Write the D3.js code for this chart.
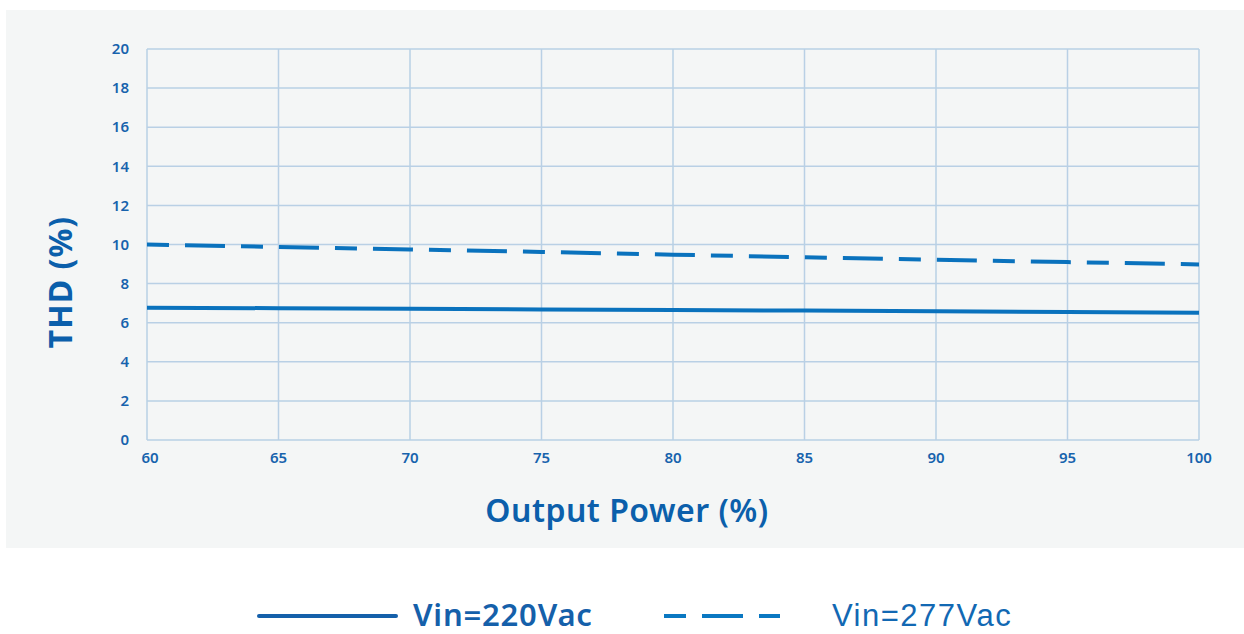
<!DOCTYPE html>
<html><head><meta charset="utf-8">
<script src="https://cdn.jsdelivr.net/npm/d3@7"></script>
<style>html,body{margin:0;padding:0;background:#fff;}svg{display:block;}</style>
</head><body>
<svg id="c" width="1244" height="634"></svg>
<script>
const xTicks = [60, 65, 70, 75, 80, 85, 90, 95, 100];
const yTicks = [0, 2, 4, 6, 8, 10, 12, 14, 16, 18, 20];
const outputPower = [60, 65, 70, 75, 80, 85, 90, 95, 100];
const thd220 = [6.77, 6.74, 6.71, 6.68, 6.65, 6.62, 6.58, 6.55, 6.51];
const thd277 = [10.0, 9.87, 9.75, 9.62, 9.48, 9.35, 9.22, 9.1, 8.98];
const seriesNames = ["Vin=220Vac", "Vin=277Vac"];

const svg = d3.select("#c");
const blue = "#0a72bd", txt = "#1763ad", grid = "#b9d0e5";
svg.append("rect").attr("x",6).attr("y",10).attr("width",1238).attr("height",538).attr("fill","#f4f6f6");

const x = d3.scaleLinear().domain([60,100]).range([147,1199]);
const y = d3.scaleLinear().domain([0,20]).range([440,49]);

const g = svg.append("g");
g.selectAll(".vg").data(xTicks).join("line")
  .attr("x1",d=>x(d)).attr("x2",d=>x(d)).attr("y1",y(0)).attr("y2",y(20))
  .attr("stroke",grid).attr("stroke-width",1.5);
g.selectAll(".hg").data(yTicks).join("line")
  .attr("y1",d=>y(d)).attr("y2",d=>y(d)).attr("x1",x(60)).attr("x2",x(100))
  .attr("stroke",grid).attr("stroke-width",1.5);

const font = "'Noto Sans', 'Open Sans', sans-serif";
g.selectAll(".yl").data(yTicks).join("text")
  .attr("x",129).attr("y",d=>y(d)).attr("dy","0.35em").attr("text-anchor","end")
  .attr("font-family",font).attr("font-size",15).attr("font-weight",600).attr("fill",txt)
  .text(d=>d);
g.selectAll(".xl").data(xTicks).join("text")
  .attr("x",d=>x(d)+(d===60?3:0)).attr("y",463).attr("text-anchor","middle")
  .attr("font-family",font).attr("font-size",15).attr("font-weight",600).attr("fill",txt)
  .text(d=>d);

const line = d3.line().x(d=>x(d[0])).y(d=>y(d[1]));
svg.append("path").datum(outputPower.map((p,i)=>[p,thd220[i]]))
  .attr("d",line).attr("fill","none").attr("stroke",blue).attr("stroke-width",4);
svg.append("path").datum(outputPower.map((p,i)=>[p,thd277[i]]))
  .attr("d",line).attr("fill","none").attr("stroke",blue).attr("stroke-width",4)
  .attr("stroke-dasharray","22,16,40,16");

svg.append("text").attr("x",627).attr("y",522).attr("text-anchor","middle")
  .attr("font-family",font).attr("font-size",32).attr("font-weight",600).attr("fill","#0b5fab")
  .attr("letter-spacing",0.5).text("Output Power (%)");
svg.append("text").attr("transform","translate(72,282) rotate(-90)").attr("text-anchor","middle")
  .attr("font-family",font).attr("font-size",32).attr("font-weight",700).attr("fill","#0b5fab")
  .attr("letter-spacing",1).text("THD (%)");

// legend
const ly = 616, lb = 626;
svg.append("line").attr("x1",259).attr("x2",396).attr("y1",ly).attr("y2",ly)
  .attr("stroke","#1560aa").attr("stroke-width",4).attr("stroke-linecap","round");
svg.append("text").attr("x",413).attr("y",lb).attr("font-family",font).attr("font-size",31)
  .attr("font-weight",600).attr("fill","#1560aa").attr("letter-spacing",0.8).text(seriesNames[0]);
svg.append("line").attr("x1",664).attr("x2",780).attr("y1",ly).attr("y2",ly)
  .attr("stroke","#0a78c2").attr("stroke-width",4).attr("stroke-dasharray","22,16,41,16");
svg.append("text").attr("x",832).attr("y",lb).attr("font-family","'Liberation Sans', Arial, sans-serif").attr("font-size",31)
  .attr("fill","#1268b3").attr("letter-spacing",1.5).text(seriesNames[1]);
</script>
</body></html>
